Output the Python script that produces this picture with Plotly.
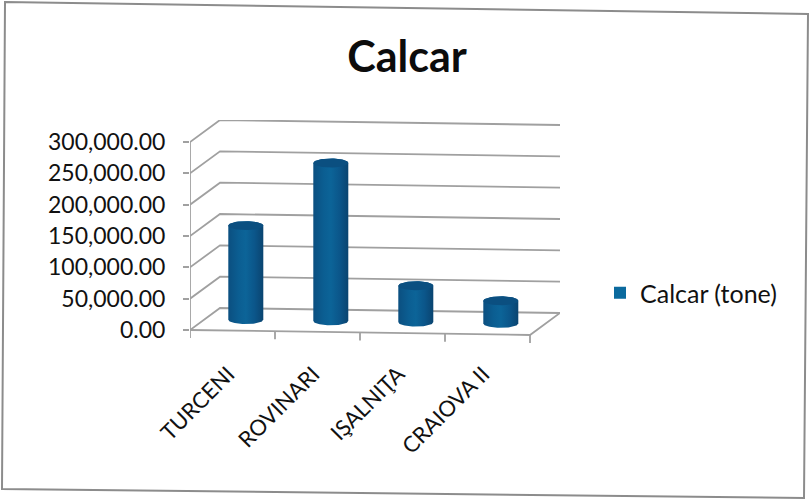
import numpy as np
import plotly.graph_objects as go

# Date
categorii = ['TURCENI', 'ROVINARI', 'IŞALNIŢA', 'CRAIOVA II']
valori = [150000, 252000, 58000, 36000]
y_ticks = [0, 50000, 100000, 150000, 200000, 250000, 300000]
titlu = 'Calcar'
serie = 'Calcar (tone)'

W, H = 810, 501
stanga, dreapta, sus, jos = 190, 560, 120, 345

# 1 categorie = 85 px, 1000 tone = 0.6267 px
px_x = 85.0
px_y = 188.0 / 300000
dx = 30 / px_x       # adancimea peretelui din spate
dy = 22 / px_y
panta = 1.25 / px_y  # podeaua coboara putin spre dreapta


def proj(c, v, d=0.0):
    return c + d * dx, v + d * dy - c * panta


def paper_x(p):
    return (p - stanga) / (dreapta - stanga)


def paper_y(p):
    return (jos - p) / (jos - sus)


fig = go.Figure()
GRID = '#a0a0a0'


def linie(puncte, lat=1.8):
    fig.add_trace(go.Scatter(x=[p[0] for p in puncte], y=[p[1] for p in puncte], mode='lines',
                             line=dict(color=GRID, width=lat), showlegend=False, hoverinfo='skip'))


# Axa Y si peretii
linie([proj(0, 0), proj(0, 300000)])
for t in y_ticks:
    linie([proj(0, t), proj(0, t, 1), proj(4, t, 1)])

# Podeaua
linie([proj(0, 0), proj(4, 0), proj(4, 0, 1)])
for i in range(5):
    a = proj(i, 0)
    linie([a, (a[0], a[1] - 8 / px_y)])

# Cilindri
rx = 17.5 / px_x
ry = 4.5 / px_y
adancime = 0.5
t_jos = np.linspace(np.pi, 2 * np.pi, 40)
t_sus = np.linspace(0, np.pi, 40)
t_tot = np.linspace(0, 2 * np.pi, 80)

for i, val in enumerate(valori):
    cx, base = proj(i + 0.5, 0, adancime)
    cx -= 0.02
    top = base + val
    xs = np.concatenate([cx + rx * np.cos(t_jos), cx + rx * np.cos(t_sus)])
    ys = np.concatenate([base + ry * np.sin(t_jos), top + ry * np.sin(t_sus)])
    fig.add_trace(go.Scatter(x=xs, y=ys, mode='lines', fill='toself', line=dict(width=0, color='#0b4f80'),
                             fillgradient=dict(type='horizontal', colorscale=[
                                 [0, '#0b4f80'], [0.3, '#0b5e92'], [0.5, '#0c6498'],
                                 [0.75, '#0b568a'], [1, '#0a4470']]),
                             showlegend=False, hoverinfo='skip'))
    fig.add_trace(go.Scatter(x=cx + rx * np.cos(t_tot), y=top + ry * np.sin(t_tot), mode='lines', fill='toself',
                             fillcolor='#0b4f80', line=dict(width=0, color='#0b4f80'),
                             showlegend=False, hoverinfo='skip'))

# Doar pentru legenda
fig.add_trace(go.Scatter(x=[None], y=[None], mode='markers', name=serie,
                         marker=dict(symbol='square', size=16, color='#0b6a9e')))

# Chenarul scanat, usor rotit
chenar = [(5, 2), (808, 14), (804, 498), (2, 489)]
cale = 'M ' + ' L '.join(f'{paper_x(a)},{paper_y(b)}' for a, b in chenar) + ' Z'

fig.update_layout(
    width=W, height=H,
    margin=dict(l=stanga, r=W - dreapta, t=sus, b=H - jos, pad=0),
    paper_bgcolor='white', plot_bgcolor='white',
    font=dict(family='Lato', color='#111111'),
    title=dict(text=f'<b>{titlu}</b>', x=407 / W, xanchor='center', y=1 - 57 / H, yanchor='middle',
               font=dict(size=43, family='Lato', color='#0c0c0c')),
    legend=dict(x=paper_x(600), y=paper_y(293), xanchor='left', yanchor='middle', font=dict(size=25),
                bgcolor='rgba(0,0,0,0)', itemsizing='constant'),
    shapes=[dict(type='path', path=cale, xref='paper', yref='paper', line=dict(color='#8c8c8c', width=2), layer='below')],
)
fig.update_xaxes(range=[0, (dreapta - stanga) / px_x], showgrid=False, zeroline=False, showline=False,
                 tickmode='array', tickvals=[i + 0.45 for i in range(4)], ticktext=categorii,
                 tickangle=-45, tickfont=dict(size=22), ticks='', ticklabelstandoff=11)
fig.update_yaxes(range=[-(jos - 330) / px_y, (330 - sus) / px_y], showgrid=False, zeroline=False, showline=False,
                 tickmode='array', tickvals=y_ticks, ticktext=[f'{t:,.2f}' for t in y_ticks],
                 tickfont=dict(size=23), ticks='outside', ticklen=6, tickcolor=GRID, tickwidth=1.5,
                 ticklabelstandoff=13)

# fara marginea implicita a paginii, graficul ocupa toata fereastra
fig.write_html('out.html', config={'displayModeBar': False}, post_script="document.body.style.margin='0';")
